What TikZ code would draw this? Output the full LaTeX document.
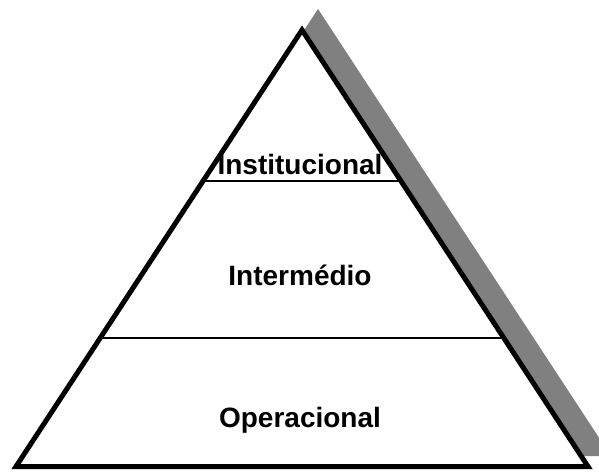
\documentclass[tikz,border=0pt]{standalone}
\usepackage{fontspec}
\setmainfont{Liberation Sans}
\usetikzlibrary{calc}
\definecolor{shadowgray}{RGB}{128,128,128}
\tikzset {
  % outline of the pyramid
  outline/.style = {draw=black, line width=2.5pt, miter limit=10, fill=white},
  % grey shadow behind it
  shadow/.style = {fill=shadowgray},
  % thin lines between the levels
  divider/.style = {black, line width=0.75pt},
  % level names
  level/.style = {font=\bfseries\fontsize{14}{16}\selectfont, anchor=base},
}

\begin{document}
\begin{tikzpicture}[x=0.5pt, y=-0.5pt]
        \useasboundingbox (0,0) rectangle (599,471);
        \clip (0,0) rectangle (599,471);

        \coordinate (top) at (302,30);
        \coordinate (left) at (16,466.5);
        \coordinate (right) at (588,466.5);

        \coordinate (stop) at (318,9);
        \coordinate (sleft) at (25,456);
        \coordinate (sright) at (611,456);

        \fill[shadow] (stop) -- (sleft) -- (sright) -- cycle;
        \draw[outline] (top) -- (left) -- (right) -- cycle;

        \coordinate (l1) at ($(top)!0.346!(left)$);
        \coordinate (r1) at ($(top)!0.346!(right)$);
        \coordinate (l2) at ($(top)!0.7056!(left)$);
        \coordinate (r2) at ($(top)!0.7056!(right)$);

        \draw[divider] (l1) -- (r1);
        \draw[divider] (l2) -- (r2);

        \node[level] (inst) at (300,174) {Institucional};
        \node[level] (inter) at (300,285) {Intermédio};
        \node[level] (oper) at (300,427) {Operacional};
      \end{tikzpicture}
\end{document}
